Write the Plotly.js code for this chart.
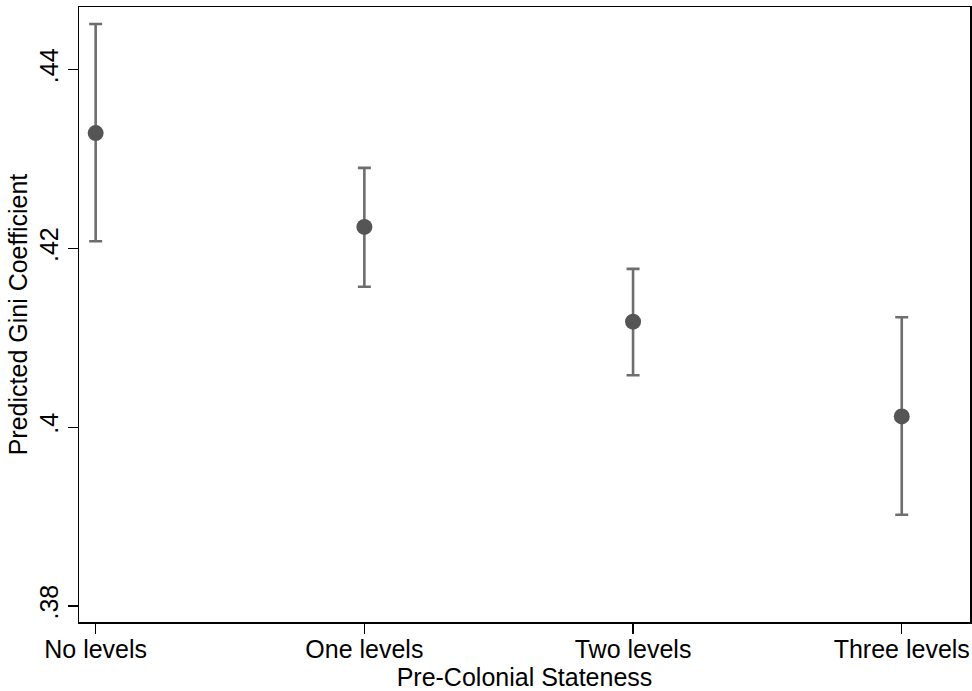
<!DOCTYPE html>
<html>
<head>
<meta charset="utf-8">
<script src="https://cdn.plot.ly/plotly-3.0.1.min.js"></script>
<style>html,body{margin:0;padding:0;background:#fff;}#chart{width:972px;height:691px;}</style>
</head>
<body>
<div id="chart"></div>
<script>
const categories = ["No levels", "One levels", "Two levels", "Three levels"];
const predicted = [0.4329, 0.4224, 0.4118, 0.4012];
const upperCI = [0.4451, 0.4290, 0.4177, 0.4123];
const lowerCI = [0.4208, 0.4157, 0.4058, 0.3902];
const yTickVals = [0.38, 0.40, 0.42, 0.44];
const yTickText = [".38", ".4", ".42", ".44"];

const errPlus = predicted.map((v, i) => upperCI[i] - v);
const errMinus = predicted.map((v, i) => v - lowerCI[i]);

const trace = {
  x: categories,
  y: predicted,
  type: "scatter",
  mode: "markers",
  marker: {color: "#555555", size: 16},
  error_y: {
    type: "data",
    symmetric: false,
    array: errPlus,
    arrayminus: errMinus,
    color: "#6e6e6e",
    thickness: 2.6,
    width: 6.5
  },
  showlegend: false,
  hoverinfo: "skip"
};

const font = "Liberation Sans, Arial, Helvetica, sans-serif";
const fs = 25;
const layout = {
  width: 972,
  height: 691,
  margin: {l: 79, r: 2, t: 7, b: 69},
  paper_bgcolor: "#ffffff",
  plot_bgcolor: "#ffffff",
  font: {family: font, color: "#000000", size: fs},
  xaxis: {
    type: "category",
    range: [-0.062, 3.254],
    showgrid: false,
    zeroline: false,
    showline: true,
    linecolor: "#000000",
    linewidth: 1.5,
    mirror: true,
    ticks: "outside",
    ticklen: 10,
    tickwidth: 1.2,
    tickcolor: "#000000",
    ticklabelstandoff: -6,
    tickfont: {family: font, size: fs, color: "#000"},
    title: {text: "Pre-Colonial Stateness", font: {family: font, size: fs, color: "#000"}, standoff: 1}
  },
  yaxis: {
    range: [0.3782, 0.4470],
    tickvals: yTickVals,
    ticktext: yTickText,
    tickangle: -90,
    showgrid: false,
    zeroline: false,
    showline: true,
    linecolor: "#000000",
    linewidth: 1.5,
    mirror: true,
    ticks: "outside",
    ticklen: 10,
    tickwidth: 1.2,
    tickcolor: "#000000",
    tickfont: {family: font, size: fs, color: "#000"},
    title: {text: "Predicted Gini Coefficient", font: {family: font, size: fs, color: "#000"}, standoff: 0}
  }
};

Plotly.newPlot("chart", [trace], layout, {displayModeBar: false, staticPlot: true});
</script>
</body>
</html>
